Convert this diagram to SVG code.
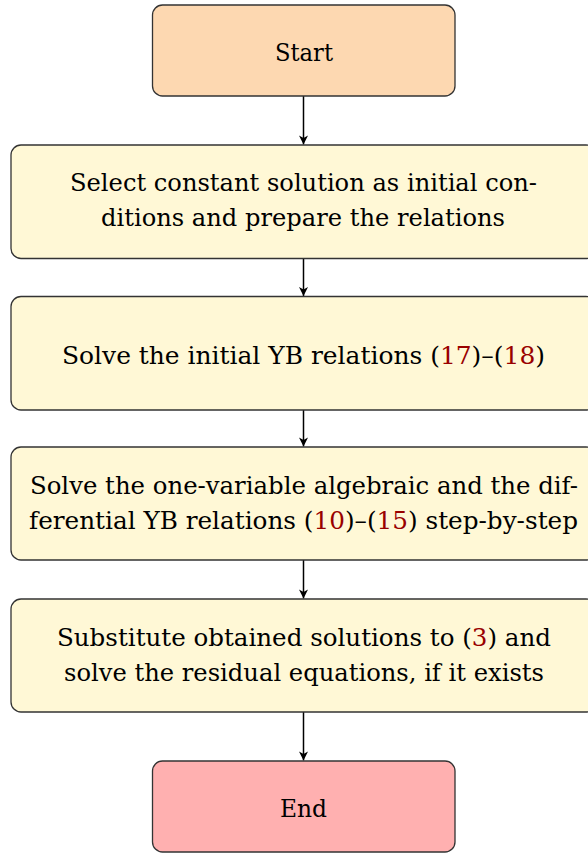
<svg xmlns="http://www.w3.org/2000/svg" width="588" height="853" viewBox="0 0 588 853">
  <style>
    .box { stroke: #333333; stroke-width: 1.3; }
    .start { fill: #FDD8B1; }
    .step { fill: #FFF8D6; }
    .end { fill: #FFB0B0; }
    text { font-family: "DejaVu Serif", "Liberation Serif", serif; font-size: 24px; fill: #000000; }
    .ref { fill: #990000; }
    .conn { stroke: #000000; stroke-width: 1.5; fill: none; }
  </style>
  <defs>
    <marker id="arrow" markerUnits="userSpaceOnUse" markerWidth="14" markerHeight="14" viewBox="-11 -7 14 14" refX="0" refY="0" orient="auto">
      <path d="M0,0 L-9,-4.5 L-6.5,0 L-9,4.5 Z" fill="#000000"/>
    </marker>
  </defs>
  <rect width="588" height="853" fill="#ffffff"/>
  <g id="connectors">
    <line class="conn" x1="303.5" y1="96" x2="303.5" y2="144.5" marker-end="url(#arrow)"/>
    <line class="conn" x1="303.5" y1="258.5" x2="303.5" y2="296" marker-end="url(#arrow)"/>
    <line class="conn" x1="303.5" y1="410" x2="303.5" y2="446.5" marker-end="url(#arrow)"/>
    <line class="conn" x1="303.5" y1="560" x2="303.5" y2="598.5" marker-end="url(#arrow)"/>
    <line class="conn" x1="303.5" y1="712" x2="303.5" y2="760.5" marker-end="url(#arrow)"/>
  </g>
  <g id="start">
    <rect class="box start" x="152.5" y="5" width="302.5" height="91" rx="10"/>
    <text x="304" y="61" text-anchor="middle" textLength="58" lengthAdjust="spacingAndGlyphs">Start</text>
  </g>
  <g id="select">
    <rect class="box step" x="11" y="145" width="585" height="113.5" rx="10"/>
    <text x="303.5" y="191" text-anchor="middle" textLength="467" lengthAdjust="spacingAndGlyphs">Select constant solution as initial con-</text>
    <text x="303" y="226" text-anchor="middle" textLength="404" lengthAdjust="spacingAndGlyphs">ditions and prepare the relations</text>
  </g>
  <g id="initial">
    <rect class="box step" x="11" y="296.5" width="585" height="113.5" rx="10"/>
    <text x="303.5" y="363.5" text-anchor="middle" textLength="483" lengthAdjust="spacingAndGlyphs">Solve the initial YB relations (<tspan class="ref">17</tspan>)–(<tspan class="ref">18</tspan>)</text>
  </g>
  <g id="onevar">
    <rect class="box step" x="11" y="447" width="585" height="113" rx="10"/>
    <text x="30" y="494" textLength="548" lengthAdjust="spacingAndGlyphs">Solve the one-variable algebraic and the dif-</text>
    <text x="29" y="529" textLength="549" lengthAdjust="spacingAndGlyphs">ferential YB relations (<tspan class="ref">10</tspan>)–(<tspan class="ref">15</tspan>) step-by-step</text>
  </g>
  <g id="substitute">
    <rect class="box step" x="11" y="599" width="585" height="113" rx="10"/>
    <text x="304" y="645.5" text-anchor="middle" textLength="494" lengthAdjust="spacingAndGlyphs">Substitute obtained solutions to (<tspan class="ref">3</tspan>) and</text>
    <text x="304" y="680.5" text-anchor="middle" textLength="480" lengthAdjust="spacingAndGlyphs">solve the residual equations, if it exists</text>
  </g>
  <g id="end">
    <rect class="box end" x="152.5" y="761" width="302.5" height="91" rx="10"/>
    <text x="303.5" y="817" text-anchor="middle" textLength="47" lengthAdjust="spacingAndGlyphs">End</text>
  </g>
</svg>
